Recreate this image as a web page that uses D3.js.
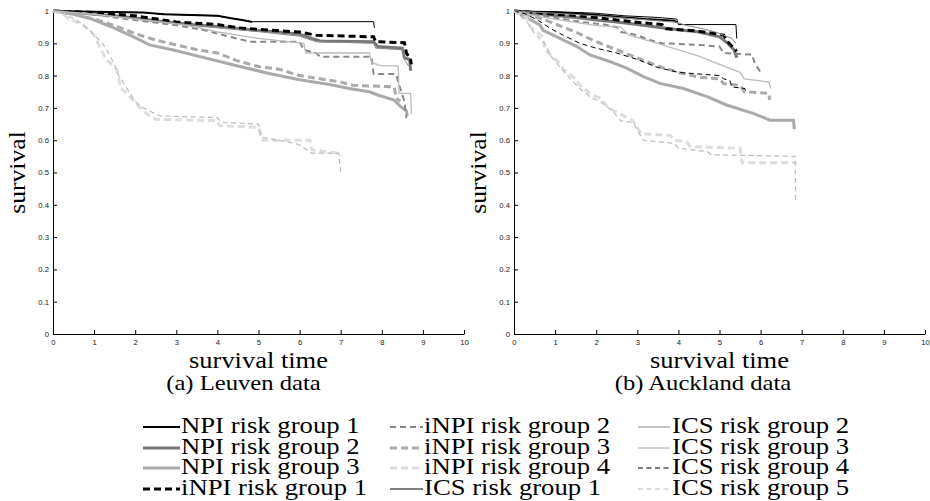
<!DOCTYPE html>
<html>
<head>
<meta charset="utf-8">
<script src="https://cdn.jsdelivr.net/npm/d3@7"></script>
<style>
  body { margin: 0; background: #fff; }
  svg { display: block; }
  .serif { font-family: 'Liberation Serif', 'DejaVu Serif', serif; }
  .sans { font-family: 'Liberation Sans', 'DejaVu Sans', sans-serif; }
</style>
</head>
<body>
<script>
'use strict';

// ---- data ----
const seriesNames = [
  'NPI risk group 1', 'NPI risk group 2', 'NPI risk group 3',
  'iNPI risk group 1', 'iNPI risk group 2', 'iNPI risk group 3', 'iNPI risk group 4',
  'ICS risk group 1', 'ICS risk group 2', 'ICS risk group 3', 'ICS risk group 4', 'ICS risk group 5'
];
const panelTitles = ['(a) Leuven data', '(b) Auckland data'];
const xTicks = [0, 1, 2, 3, 4, 5, 6, 7, 8, 9, 10];
const xTickLabels = ['0', '1', '2', '3', '4', '5', '6', '7', '8', '9', '10'];
const yTicks = [0, 0.1, 0.2, 0.3, 0.4, 0.5, 0.6, 0.7, 0.8, 0.9, 1];
const yTickLabels = ['0', '0.1', '0.2', '0.3', '0.4', '0.5', '0.6', '0.7', '0.8', '0.9', '1'];
const xLabel = 'survival time';
const yLabel = 'survival';

// Leuven: [time, survival]
const leuvenNPI1 = [[0,1],[1,0.998],[2.2,0.995],[2.7,0.99],[4.0,0.985],[4.3,0.978],[4.6,0.972],[4.85,0.966]];
const leuvenNPI2 = [[0,1],[0.5,0.996],[1,0.99],[1.5,0.985],[2,0.978],[2.5,0.97],[3,0.963],[3.5,0.957],[4,0.952],[4.5,0.946],[5,0.94],[5.5,0.935],[6,0.928],[6.3,0.915],[6.5,0.907],[7.8,0.905],[7.9,0.89],[8.5,0.885],[8.55,0.855],[8.68,0.85],[8.7,0.815]];
const leuvenNPI3 = [[0,1],[0.5,0.99],[0.9,0.977],[1.4,0.952],[1.96,0.92],[2.35,0.895],[2.9,0.88],[3.6,0.858],[4.4,0.833],[5.2,0.808],[6.0,0.787],[6.8,0.771],[7.2,0.76],[7.7,0.75],[7.9,0.74],[8.3,0.724],[8.45,0.705],[8.6,0.69],[8.62,0.675]];
const leuvenINPI1 = [[0,1],[1,0.995],[2,0.985],[3,0.966],[4,0.958],[4.5,0.948],[5,0.943],[6,0.935],[6.4,0.925],[7.8,0.92],[7.85,0.905],[8.55,0.902],[8.6,0.87],[8.7,0.85],[8.72,0.835]];
const leuvenINPI2 = [[0,1],[0.5,0.997],[1,0.99],[1.5,0.98],[2,0.972],[2.5,0.964],[3,0.956],[3.7,0.94],[4.3,0.92],[4.8,0.905],[6.0,0.905],[6.1,0.88],[6.4,0.87],[6.5,0.858],[7.75,0.858],[7.8,0.805],[8.35,0.805],[8.4,0.78],[8.55,0.72],[8.6,0.668]];
const leuvenINPI3 = [[0,1],[0.5,0.99],[1.0,0.975],[1.5,0.955],[2.0,0.93],[2.5,0.91],[3.0,0.895],[3.5,0.88],[4.0,0.87],[4.5,0.845],[5.0,0.828],[5.5,0.82],[6.0,0.8],[6.5,0.79],[7.0,0.78],[7.3,0.77],[8.3,0.765],[8.35,0.73],[8.45,0.72]];
const leuvenINPI4 = [[0,1],[0.2,0.995],[0.4,0.975],[0.75,0.955],[1.0,0.925],[1.15,0.885],[1.3,0.85],[1.55,0.82],[1.65,0.76],[1.8,0.745],[1.9,0.73],[2.05,0.71],[2.3,0.68],[2.5,0.665],[4.0,0.66],[4.05,0.645],[5.0,0.64],[5.1,0.6],[6.25,0.6],[6.3,0.57],[6.95,0.56],[7.0,0.55]];
const leuvenICS1 = [[0,1],[1,0.998],[2.2,0.995],[2.7,0.99],[4.0,0.985],[4.3,0.978],[4.6,0.972],[4.85,0.967],[7.8,0.967],[7.82,0.948]];
const leuvenICS2 = [[0,1],[1,0.99],[2,0.976],[3,0.962],[4,0.948],[5,0.936],[6,0.922],[6.4,0.905],[7.8,0.9],[7.85,0.885],[8.5,0.88],[8.55,0.85],[8.65,0.83]];
const leuvenICS3 = [[0,1],[1,0.99],[2,0.975],[3,0.96],[3.5,0.95],[4,0.935],[4.5,0.925],[5,0.915],[6.1,0.9],[6.15,0.87],[7.7,0.87],[7.75,0.84],[8.0,0.83],[8.4,0.83],[8.42,0.745],[8.7,0.745],[8.72,0.68]];
const leuvenICS4 = null; // not visible in the Leuven panel
const leuvenICS5 = [[0,1],[0.3,0.99],[0.6,0.97],[0.9,0.94],[1.2,0.9],[1.4,0.86],[1.6,0.8],[1.75,0.77],[2.0,0.72],[2.2,0.7],[2.6,0.675],[4.0,0.67],[4.1,0.655],[5.0,0.65],[5.05,0.61],[5.9,0.59],[6.0,0.585],[6.3,0.56],[6.95,0.56],[7.0,0.5]];

// Auckland: [time, survival]
const aucklandNPI1 = [[0,1],[0.5,0.997],[1,0.995],[1.8,0.99],[2.7,0.98],[3.2,0.975],[3.9,0.97],[3.96,0.965]];
const aucklandNPI2 = [[0,1],[0.5,0.993],[1,0.986],[1.5,0.98],[2,0.972],[2.5,0.966],[3,0.958],[3.5,0.95],[4,0.942],[4.5,0.935],[5,0.92],[5.2,0.9],[5.35,0.88],[5.42,0.855]];
const aucklandNPI3 = [[0,1],[0.3,0.98],[0.63,0.957],[0.71,0.94],[1.12,0.915],[1.53,0.89],[1.85,0.864],[2.34,0.843],[2.74,0.823],[3.15,0.797],[3.55,0.776],[4.12,0.76],[4.7,0.735],[5.17,0.709],[5.82,0.683],[6.23,0.662],[6.8,0.662],[6.82,0.634]];
const aucklandINPI1 = [[0,1],[0.5,0.995],[1,0.99],[1.5,0.986],[2,0.98],[2.5,0.972],[3,0.965],[3.6,0.958],[3.7,0.945],[4.3,0.94],[4.8,0.932],[5.1,0.925],[5.2,0.905],[5.35,0.885],[5.42,0.875]];
const aucklandINPI2 = [[0,1],[0.3,0.995],[0.7,0.985],[1.2,0.975],[1.7,0.965],[2.2,0.958],[2.5,0.95],[2.6,0.935],[3.0,0.925],[3.3,0.91],[3.6,0.9],[4.5,0.895],[5.0,0.89],[5.1,0.87],[5.8,0.865],[5.85,0.84],[5.95,0.82],[6.0,0.81]];
const aucklandINPI3 = [[0,1],[0.3,0.99],[0.7,0.975],[1.0,0.96],[1.5,0.935],[2.0,0.905],[2.5,0.88],[3.0,0.855],[3.5,0.83],[4.0,0.81],[4.5,0.795],[5.0,0.79],[5.1,0.775],[5.5,0.77],[5.6,0.75],[6.2,0.745],[6.22,0.725]];
const aucklandINPI4 = [[0,1],[0.3,0.98],[0.4,0.95],[0.7,0.92],[0.75,0.88],[1.1,0.84],[1.2,0.82],[1.5,0.79],[1.6,0.77],[1.9,0.74],[2.1,0.73],[2.3,0.7],[2.6,0.68],[2.9,0.66],[3.0,0.64],[3.1,0.62],[3.8,0.615],[3.9,0.6],[4.2,0.595],[4.3,0.58],[5.5,0.575],[5.55,0.53],[6.84,0.53],[6.85,0.525]];
const aucklandICS1 = [[0,1],[1,0.998],[2,0.993],[2.7,0.985],[3.5,0.98],[3.96,0.975],[4.0,0.958],[5.4,0.958],[5.42,0.915]];
const aucklandICS2 = [[0,1],[1,0.993],[2,0.985],[3,0.975],[3.96,0.965],[4.2,0.955],[4.6,0.945],[4.9,0.935],[5.1,0.925],[5.3,0.915],[5.4,0.9]];
const aucklandICS3 = [[0,1],[0.5,0.985],[1,0.975],[1.5,0.965],[2,0.955],[2.6,0.95],[2.8,0.925],[3.5,0.9],[4.0,0.88],[4.5,0.86],[5.0,0.835],[5.5,0.81],[5.6,0.79],[6.2,0.78],[6.25,0.76]];
const aucklandICS4 = [[0,1],[0.3,0.99],[0.6,0.97],[0.9,0.945],[1.2,0.925],[1.6,0.9],[2.0,0.885],[2.5,0.87],[3.0,0.85],[3.5,0.825],[4.0,0.81],[4.5,0.805],[5.0,0.8],[5.1,0.79],[5.25,0.785],[5.3,0.765],[5.62,0.76],[5.64,0.75]];
const aucklandICS5 = [[0,1],[0.3,0.97],[0.5,0.93],[0.75,0.9],[0.9,0.86],[1.1,0.83],[1.3,0.8],[1.6,0.76],[1.9,0.73],[2.1,0.72],[2.4,0.69],[2.6,0.66],[2.9,0.655],[3.0,0.63],[3.15,0.6],[3.9,0.59],[4.0,0.575],[4.7,0.565],[4.8,0.555],[6.84,0.55],[6.85,0.415]];

// ---- styles (one per series, legend order) ----
const styles = [
  { color: '#000', width: 2,   dash: null },
  { color: '#777', width: 3,   dash: null },
  { color: '#aaa', width: 3,   dash: null },
  { color: '#000', width: 3,   dash: '7,4' },
  { color: '#888', width: 2,   dash: '6,4' },
  { color: '#aaa', width: 3,   dash: '7,4' },
  { color: '#ddd', width: 3,   dash: '7,4' },
  { color: '#000', width: 1,   dash: null },
  { color: '#888', width: 1,   dash: null },
  { color: '#bbb', width: 1.3, dash: null },
  { color: '#000', width: 1,   dash: '5,3.5' },
  { color: '#bbb', width: 1.2, dash: '5,3.5' }
];

const W = 930, H = 501;
const yTop = 11, yBottom = 334;

const panels = [
  { x0: 53, x1: 464, title: panelTitles[0], titleX: 243.5, ylabX: 25,
    curves: [leuvenNPI1, leuvenNPI2, leuvenNPI3, leuvenINPI1, leuvenINPI2, leuvenINPI3, leuvenINPI4,
             leuvenICS1, leuvenICS2, leuvenICS3, leuvenICS4, leuvenICS5] },
  { x0: 514, x1: 925, title: panelTitles[1], titleX: 703, ylabX: 486,
    curves: [aucklandNPI1, aucklandNPI2, aucklandNPI3, aucklandINPI1, aucklandINPI2, aucklandINPI3, aucklandINPI4,
             aucklandICS1, aucklandICS2, aucklandICS3, aucklandICS4, aucklandICS5] }
];

const svg = d3.select('body').append('svg')
  .attr('width', W)
  .attr('height', H);

// stretch serif text a bit so it takes the width of the original Computer Modern
const widen = (sel, k) => sel.each(function () {
  const w = this.getComputedTextLength();
  d3.select(this).attr('textLength', w * k).attr('lengthAdjust', 'spacingAndGlyphs');
});

const styleAxis = g => {
  g.attr('font-family', null).attr('font-size', null).attr('class', 'sans').style('font-size', '7.7px');
  g.select('.domain').attr('stroke', '#000').attr('stroke-width', 1);
  g.selectAll('.tick line').attr('stroke', '#000');
  g.selectAll('.tick text').attr('fill', '#222');
};

panels.forEach(p => {
  const x = d3.scaleLinear().domain([0, 10]).range([p.x0, p.x1]);
  const y = d3.scaleLinear().domain([0, 1]).range([yBottom, yTop]);
  const g = svg.append('g');

  g.append('g')
    .attr('transform', `translate(0,${yBottom})`)
    .call(d3.axisBottom(x).tickValues(xTicks).tickFormat((d, i) => xTickLabels[i])
      .tickSizeInner(-4).tickSizeOuter(0).tickPadding(6))
    .call(styleAxis);

  g.append('g')
    .attr('transform', `translate(${p.x0},0)`)
    .call(d3.axisLeft(y).tickValues(yTicks).tickFormat((d, i) => yTickLabels[i])
      .tickSizeInner(-4).tickSizeOuter(0).tickPadding(4))
    .call(styleAxis);

  const line = d3.line().x(d => x(d[0])).y(d => y(d[1]));

  p.curves.forEach((c, i) => {
    if (!c) return;
    const s = styles[i];
    g.append('path')
      .datum(c)
      .attr('d', line)
      .attr('fill', 'none')
      .attr('stroke', s.color)
      .attr('stroke-width', s.width)
      .attr('stroke-dasharray', s.dash);
  });

  g.append('text')
    .attr('class', 'serif')
    .attr('x', (p.x0 + p.x1) / 2)
    .attr('y', 368)
    .attr('text-anchor', 'middle')
    .style('font-size', '23px')
    .text(xLabel)
    .call(widen, 1.15);

  g.append('text')
    .attr('class', 'serif')
    .attr('transform', `translate(${p.ylabX},${(yTop + yBottom) / 2}) rotate(-90)`)
    .attr('text-anchor', 'middle')
    .style('font-size', '24px')
    .text(yLabel)
    .call(widen, 1.07);

  g.append('text')
    .attr('class', 'serif')
    .attr('x', p.titleX)
    .attr('y', 389.5)
    .attr('text-anchor', 'middle')
    .style('font-size', '22px')
    .text(p.title)
    .call(widen, 1.12);
});

// ---- legend: 3 columns x 4 rows ----
const legendCols = [
  { lx0: 143, lx1: 180, tx: 181 },
  { lx0: 390, lx1: 423, tx: 424 },
  { lx0: 638, lx1: 670, tx: 672 }
];
const legendRows = [433, 454, 474, 495];

const legend = svg.append('g');
seriesNames.forEach((name, i) => {
  const col = legendCols[Math.floor(i / 4)];
  const base = legendRows[i % 4];
  const s = styles[i];
  legend.append('line')
    .attr('x1', col.lx0).attr('x2', col.lx1)
    .attr('y1', base - 6).attr('y2', base - 6)
    .attr('stroke', s.color)
    .attr('stroke-width', s.width)
    .attr('stroke-dasharray', s.dash);
  legend.append('text')
    .attr('class', 'serif')
    .attr('x', col.tx)
    .attr('y', base)
    .style('font-size', '23px')
    .attr('fill', '#000')
    .text(name)
    .call(widen, 1.16);
});
</script>
</body>
</html>
